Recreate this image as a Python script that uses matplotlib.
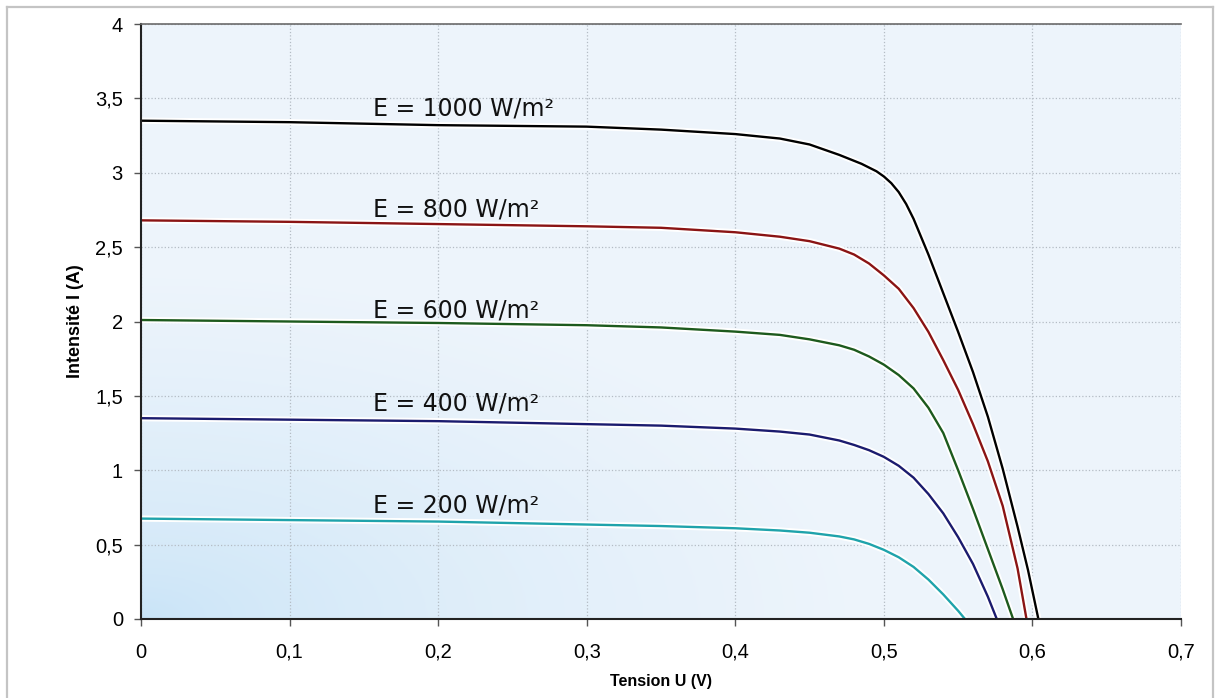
import numpy as np
import matplotlib.pyplot as plt
import matplotlib.patheffects as pe
from matplotlib.lines import Line2D

# courbes I-V (tension en V, intensité en A)
u_1000 = [0, 0.1, 0.2, 0.3, 0.35, 0.40, 0.43, 0.45, 0.47, 0.485, 0.495, 0.50, 0.505, 0.51, 0.515,
          0.52, 0.525, 0.53, 0.54, 0.55, 0.56, 0.57, 0.58, 0.59, 0.597, 0.604]
i_1000 = [3.35, 3.34, 3.32, 3.31, 3.29, 3.26, 3.23, 3.19, 3.12, 3.06, 3.01, 2.975, 2.93, 2.87, 2.79,
          2.69, 2.57, 2.45, 2.19, 1.93, 1.66, 1.36, 1.01, 0.62, 0.33, 0]

u_800 = [0, 0.1, 0.2, 0.3, 0.35, 0.40, 0.43, 0.45, 0.47, 0.48, 0.49, 0.50, 0.51, 0.52,
         0.53, 0.54, 0.55, 0.56, 0.57, 0.58, 0.59, 0.596]
i_800 = [2.68, 2.67, 2.655, 2.64, 2.63, 2.60, 2.57, 2.54, 2.49, 2.45, 2.39, 2.31, 2.22, 2.09,
         1.93, 1.74, 1.54, 1.31, 1.06, 0.76, 0.34, 0]

u_600 = [0, 0.1, 0.2, 0.3, 0.35, 0.40, 0.43, 0.45, 0.47, 0.48, 0.49, 0.50, 0.51, 0.52,
         0.53, 0.54, 0.55, 0.56, 0.57, 0.58, 0.587]
i_600 = [2.01, 2.0, 1.99, 1.975, 1.96, 1.932, 1.91, 1.88, 1.84, 1.81, 1.765, 1.71, 1.64, 1.55,
         1.42, 1.25, 1.00, 0.74, 0.47, 0.20, 0]

u_400 = [0, 0.1, 0.2, 0.3, 0.35, 0.40, 0.43, 0.45, 0.47, 0.48, 0.49, 0.50, 0.51, 0.52,
         0.53, 0.54, 0.55, 0.56, 0.57, 0.576]
i_400 = [1.35, 1.34, 1.33, 1.31, 1.30, 1.28, 1.26, 1.24, 1.20, 1.17, 1.135, 1.09, 1.03, 0.95,
         0.84, 0.71, 0.55, 0.37, 0.15, 0]

u_200 = [0, 0.1, 0.2, 0.3, 0.35, 0.40, 0.43, 0.45, 0.47, 0.48, 0.49, 0.50, 0.51, 0.52,
         0.53, 0.54, 0.55, 0.5546]
i_200 = [0.675, 0.665, 0.655, 0.635, 0.625, 0.61, 0.595, 0.58, 0.555, 0.535, 0.505, 0.465, 0.415, 0.35,
         0.265, 0.165, 0.055, 0]

labels = ['E = 1000 W/m²', 'E = 800 W/m²', 'E = 600 W/m²', 'E = 400 W/m²', 'E = 200 W/m²']
label_y = [3.435, 2.756, 2.077, 1.452, 0.766]
colors = ['#000000', '#8a1414', '#1d5a1d', '#1b1b6e', '#1fa3ab']

x_ticks = [0, 0.1, 0.2, 0.3, 0.4, 0.5, 0.6, 0.7]
x_ticklabels = ['0', '0,1', '0,2', '0,3', '0,4', '0,5', '0,6', '0,7']
y_ticks = [0, 0.5, 1, 1.5, 2, 2.5, 3, 3.5, 4]
y_ticklabels = ['0', '0,5', '1', '1,5', '2', '2,5', '3', '3,5', '4']

fig = plt.figure(figsize=(12.17, 6.98), dpi=100)
ax = fig.add_axes([141/1217, 1-619/698, 1040/1217, 595/698])

# fond dégradé bleu clair (plus soutenu en bas à gauche)
ny, nx = 200, 300
gx, gy = np.meshgrid(np.linspace(0, 1, nx), np.linspace(0, 1, ny))
t = np.clip(np.sqrt((gx * 1.1)**2 + (gy * 1.3)**2) / 0.75, 0, 1) ** 0.6
c0 = np.array([0.78, 0.89, 0.97])
c1 = np.array([0.93, 0.958, 0.985])
img = c0[None, None, :] * (1 - t[..., None]) + c1[None, None, :] * t[..., None]
ax.imshow(img, extent=[0, 0.7, 0, 4], origin='lower', aspect='auto', zorder=0)

curves = [(u_1000, i_1000), (u_800, i_800), (u_600, i_600), (u_400, i_400), (u_200, i_200)]
for (u, i), c, lab, ly in zip(curves, colors, labels, label_y):
    ax.plot(u, i, color=c, lw=1.7, zorder=3, solid_joinstyle='round',
            path_effects=[pe.Stroke(linewidth=4.5, foreground='white'), pe.Normal()])
    ax.text(0.156, ly, lab, fontsize=17, family='DejaVu Sans', va='center', ha='left',
            color='#111111', zorder=4)

ax.set_xlim(0, 0.7)
ax.set_ylim(0, 4)
ax.set_xticks(x_ticks)
ax.set_xticklabels(x_ticklabels)
ax.set_yticks(y_ticks)
ax.set_yticklabels(y_ticklabels)
ax.grid(True, color='#b4bcc4', linestyle=':', linewidth=0.9, zorder=1)
ax.set_axisbelow(True)

for lab in ax.get_xticklabels() + ax.get_yticklabels():
    lab.set_family('Liberation Sans')
    lab.set_fontsize(14.5)
ax.tick_params(axis='both', direction='out', length=5, width=1, color='#555555')
ax.tick_params(axis='x', pad=12)
ax.tick_params(axis='y', pad=8)

ax.spines['right'].set_visible(False)
ax.spines['top'].set_color('#6b6b6b')
ax.spines['top'].set_linewidth(1.2)
for side in ['left', 'bottom']:
    ax.spines[side].set_color('#222222')
    ax.spines[side].set_linewidth(1.5)
for sp in ax.spines.values():
    sp.set_zorder(5)

ax.set_xlabel('Tension U (V)', fontsize=11.5, fontweight='bold',
              family=['Liberation Sans Narrow', 'Liberation Sans'], labelpad=9)
ax.set_ylabel('Intensité I (A)', fontsize=13, fontweight='bold',
              family=['Liberation Sans Narrow', 'Liberation Sans'], labelpad=8)

# cadre gris autour de la figure
bc = '#c4c4c4'
fig.add_artist(Line2D([7/1217, 7/1217], [0, 1-7/698], color=bc, lw=1.6, transform=fig.transFigure))
fig.add_artist(Line2D([7/1217, 1213/1217], [1-7/698, 1-7/698], color=bc, lw=1.6, transform=fig.transFigure))
fig.add_artist(Line2D([1213/1217, 1213/1217], [0, 1-7/698], color=bc, lw=1.6, transform=fig.transFigure))

fig.savefig('out.png', dpi=100)
